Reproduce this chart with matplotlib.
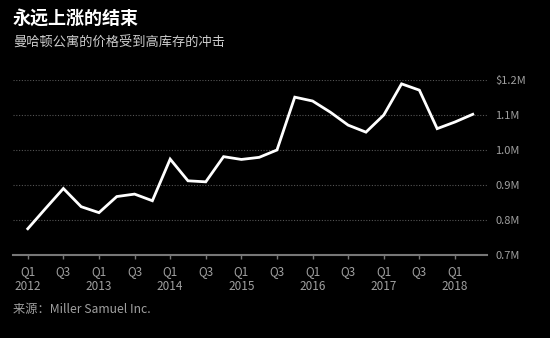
import matplotlib.pyplot as plt

plt.rcParams['font.family'] = ['Noto Sans CJK SC', 'DejaVu Sans']

# quarterly median price, $M (Q1 2012 .. Q2 2018)
quarters = ["Q1 2012", "Q2 2012", "Q3 2012", "Q4 2012",
            "Q1 2013", "Q2 2013", "Q3 2013", "Q4 2013",
            "Q1 2014", "Q2 2014", "Q3 2014", "Q4 2014",
            "Q1 2015", "Q2 2015", "Q3 2015", "Q4 2015",
            "Q1 2016", "Q2 2016", "Q3 2016", "Q4 2016",
            "Q1 2017", "Q2 2017", "Q3 2017", "Q4 2017",
            "Q1 2018", "Q2 2018"]
price = [0.775, 0.833, 0.890, 0.838,
         0.821, 0.867, 0.874, 0.855,
         0.974, 0.912, 0.909, 0.981,
         0.973, 0.979, 1.000, 1.151,
         1.140, 1.108, 1.071, 1.051,
         1.100, 1.189, 1.171, 1.061,
         1.080, 1.102]

x_tick_labels = ["Q1\n2012", "Q3", "Q1\n2013", "Q3", "Q1\n2014", "Q3",
                 "Q1\n2015", "Q3", "Q1\n2016", "Q3", "Q1\n2017", "Q3", "Q1\n2018"]
y_ticks = [0.7, 0.8, 0.9, 1.0, 1.1, 1.2]
y_tick_labels = ["0.7M", "0.8M", "0.9M", "1.0M", "1.1M", "$1.2M"]

bg = "#000000"
grey = "#a0a0a0"

fig = plt.figure(figsize=(5.5, 3.38), dpi=100, facecolor=bg)
ax = fig.add_axes([13/550, 1 - 255/338, 474/550, 175/338], facecolor=bg)

xs = list(range(len(price)))
ax.plot(xs, price, color="white", linewidth=2, solid_joinstyle="miter", zorder=3)

ax.set_xlim(-0.83, 25.8)
ax.set_ylim(0.7, 1.2)

ax.set_yticks(y_ticks)
ax.set_yticklabels(y_tick_labels)
ax.yaxis.tick_right()
ax.tick_params(axis="y", length=0, pad=6, labelcolor=grey, labelsize=8)
for t in ax.get_yticklabels():
    t.set_horizontalalignment("left")

ax.set_xticks(xs[::2])
ax.set_xticklabels(x_tick_labels, linespacing=1.25)
ax.tick_params(axis="x", direction="out", length=3, width=1, color="#777777",
               labelcolor=grey, labelsize=8.5, pad=4)

for y in y_ticks[1:]:
    ax.axhline(y, color="#555555", linewidth=0.8, linestyle=(0, (1, 1.5)), zorder=1)

for s in ["top", "right", "left"]:
    ax.spines[s].set_visible(False)
ax.spines["bottom"].set_color("#777777")
ax.spines["bottom"].set_linewidth(1.5)

fig.text(13/550, 1 - 18/338, "永远上涨的结束", color="white", fontsize=13,
         fontweight="bold", va="center", ha="left")
fig.text(13/550, 1 - 43/338, "曼哈顿公寓的价格受到高库存的冲击", color="#cccccc",
         fontsize=9.5, va="center", ha="left")
fig.text(13/550, 1 - 310/338, "来源：Miller Samuel Inc.", color=grey,
         fontsize=8.8, va="center", ha="left")

fig.savefig("out.png", dpi=100, facecolor=bg)
